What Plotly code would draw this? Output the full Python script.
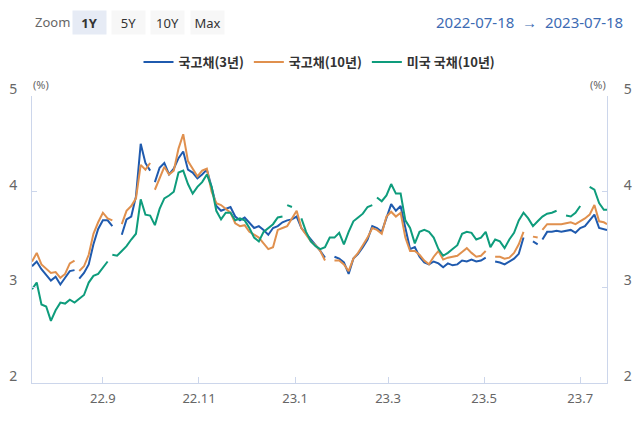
import pandas as pd
import plotly.graph_objects as go

# ---- data ----
start_date = "2022-07-18"
end_date = "2023-07-18"
dates = pd.date_range(start_date, periods=122, freq="3D").strftime("%Y-%m-%d").tolist() + [end_date]

# market holidays (no quote -> break in the line)
kr_holidays = ["2022-08-15", "2022-10-03", "2023-06-06"]
us_holidays = ["2022-09-05", "2022-12-26", "2023-02-20"]

ktb3 = [3.22, 3.27, 3.19, 3.13, 3.07, 3.11, 3.03, 3.10, 3.17, 3.18,
        3.09, 3.15, 3.24, 3.45, 3.61, 3.70, 3.70, 3.64, None, 3.55,
        3.71, 3.74, 3.95, 4.50, 4.30, 4.22, 4.10, 4.25, 4.30, 4.18,
        4.24, 4.35, 4.42, 4.23, 4.20, 4.14, 4.18, 4.23, 4.05, 3.85,
        3.80, 3.82, 3.84, 3.74, 3.70, 3.73, 3.68, 3.62, 3.64, 3.60,
        3.55, 3.62, 3.64, 3.68, 3.70, 3.71, 3.74, 3.62, 3.56, 3.50,
        3.45, 3.38, 3.31, None, 3.32, 3.30, 3.26, 3.14, 3.30, 3.35,
        3.42, 3.50, 3.64, 3.62, 3.58, 3.72, 3.87, 3.80, 3.85, 3.62,
        3.40, 3.42, 3.32, 3.26, 3.24, 3.27, 3.25, 3.21, 3.25, 3.23,
        3.24, 3.28, 3.27, 3.29, 3.27, 3.28, 3.31, None, 3.27, 3.26,
        3.24, 3.27, 3.30, 3.35, 3.52, None, 3.48, 3.45, 3.50, 3.58,
        3.58, 3.59, 3.58, 3.59, 3.60, 3.57, 3.62, 3.64, 3.70, 3.76,
        3.62, 3.61, 3.60]

ktb10 = [3.27, 3.36, 3.24, 3.20, 3.15, 3.16, 3.10, 3.14, 3.25, 3.28,
         3.17, 3.22, 3.34, 3.56, 3.68, 3.78, 3.72, 3.70, None, 3.66,
         3.80, 3.85, 3.93, 4.28, 4.23, 4.30, 4.02, 4.15, 4.26, 4.18,
         4.22, 4.45, 4.60, 4.32, 4.24, 4.16, 4.22, 4.24, 4.00, 3.88,
         3.86, 3.82, 3.78, 3.67, 3.64, 3.65, 3.58, 3.55, 3.52, 3.46,
         3.40, 3.42, 3.60, 3.62, 3.64, 3.72, 3.80, 3.62, 3.55, 3.48,
         3.44, 3.38, 3.28, None, 3.28, 3.28, 3.24, 3.17, 3.30, 3.36,
         3.44, 3.52, 3.62, 3.60, 3.56, 3.74, 3.79, 3.74, 3.78, 3.52,
         3.38, 3.38, 3.34, 3.28, 3.24, 3.32, 3.38, 3.29, 3.31, 3.32,
         3.33, 3.37, 3.41, 3.36, 3.32, 3.33, 3.38, None, 3.32, 3.32,
         3.30, 3.31, 3.36, 3.45, 3.58, None, 3.53, 3.52, 3.60, 3.66,
         3.66, 3.66, 3.66, 3.67, 3.68, 3.66, 3.69, 3.72, 3.76, 3.86,
         3.69, 3.68, 3.66]

ust10 = [2.98, 3.05, 2.82, 2.80, 2.65, 2.76, 2.84, 2.83, 2.87, 2.84,
         2.88, 2.92, 3.05, 3.12, 3.14, 3.20, 3.27, 3.34, 3.33, 3.38,
         3.43, 3.50, 3.56, 3.92, 3.76, 3.75, 3.65, 3.82, 3.93, 3.96,
         4.00, 4.20, 4.22, 4.08, 3.98, 4.05, 4.10, 4.18, 4.05, 3.80,
         3.71, 3.78, 3.78, 3.70, 3.72, 3.70, 3.62, 3.52, 3.48, 3.58,
         3.62, 3.66, 3.73, 3.74, 3.86, 3.84, None, 3.72, 3.58, 3.48,
         3.43, 3.40, 3.42, 3.52, 3.52, 3.57, 3.45, 3.58, 3.69, 3.73,
         3.77, 3.84, 3.86, 3.94, 3.90, 3.96, 4.08, 3.98, 3.98, 3.70,
         3.62, 3.46, 3.58, 3.60, 3.58, 3.52, 3.40, 3.33, 3.36, 3.40,
         3.44, 3.56, 3.58, 3.57, 3.50, 3.52, 3.58, 3.42, 3.50, 3.48,
         3.41, 3.50, 3.57, 3.70, 3.78, 3.72, 3.64, 3.69, 3.74, 3.77,
         3.78, 3.80, None, 3.75, 3.74, 3.78, 3.85, None, 4.05, 4.02,
         3.88, 3.81, 3.81]

series_names = ["국고채(3년)", "국고채(10년)", "미국 국채(10년)"]
series_colors = ["#1f5aae", "#e0904e", "#0e9c7c"]

tick_dates = ["2022-09-01", "2022-11-01", "2023-01-01", "2023-03-01", "2023-05-01", "2023-07-01"]
tick_labels = ["22.9", "22.11", "23.1", "23.3", "23.5", "23.7"]
y_ticks = [2, 3, 4, 5]

zoom_buttons = ["1Y", "5Y", "10Y", "Max"]


def with_holidays(vals, holidays):
    pairs = list(zip(dates, vals)) + [(h, None) for h in holidays]
    pairs.sort(key=lambda p: p[0])
    return [p[0] for p in pairs], [p[1] for p in pairs]


# ---- figure ----
fig = go.Figure()
for vals, hol, name, color in zip([ktb3, ktb10, ust10], [kr_holidays, kr_holidays, us_holidays],
                                  series_names, series_colors):
    xs, ys = with_holidays(vals, hol)
    fig.add_trace(go.Scatter(x=xs, y=ys, mode="lines", name="<b>" + name + "</b>",
                             line=dict(color=color, width=2), connectgaps=False))

axis_color = "#ccd6eb"
tick_font = dict(family="Noto Sans", size=13, color="#666666")

fig.update_layout(
    width=639, height=426,
    margin=dict(l=32, r=32, t=96, b=43, autoexpand=False),
    paper_bgcolor="white", plot_bgcolor="white",
    showlegend=True,
    legend=dict(orientation="h", x=0.5, xanchor="center", xref="container",
                y=1 - 62 / 426, yanchor="middle", yref="container",
                font=dict(family="Noto Sans CJK KR", size=13, color="#333333"),
                itemwidth=30, tracegroupgap=0, bgcolor="rgba(0,0,0,0)"),
    xaxis=dict(type="date", range=[start_date, end_date], tickvals=tick_dates, ticktext=tick_labels,
               showline=True, linecolor=axis_color, linewidth=1, ticks="inside", ticklen=6,
               tickcolor=axis_color, showgrid=False, zeroline=False, tickfont=tick_font,
               ticklabelstandoff=3, automargin=False),
    yaxis=dict(range=[2, 5], tickvals=y_ticks, showline=True, linecolor=axis_color, linewidth=1,
               ticks="inside", ticklen=5, tickcolor=axis_color, showgrid=False, zeroline=False,
               tickfont=dict(family="Noto Sans", size=14, color="#666666"),
               ticklabelshift=-7, ticklabelstandoff=11, automargin=False),
    yaxis2=dict(range=[2, 5], tickvals=y_ticks, overlaying="y", side="right", showline=True,
                linecolor=axis_color, linewidth=1, ticks="inside", ticklen=5, tickcolor=axis_color,
                showgrid=False, zeroline=False,
                tickfont=dict(family="Noto Sans", size=14, color="#666666"),
                ticklabelshift=-7, ticklabelstandoff=13, automargin=False),
)

# invisible trace to make the right axis render
fig.add_trace(go.Scatter(x=[dates[0]], y=[None], yaxis="y2", showlegend=False, hoverinfo="skip"))

annotations = []
annotations.append(dict(text="Zoom", xref="paper", yref="paper", x=0.0017, y=1.2578,
                        xanchor="left", yanchor="middle", showarrow=False,
                        font=dict(family="Noto Sans", size=13, color="#666666")))
btn_centers = [0.100, 0.1678, 0.2357, 0.3049]
for i, (lab, cx) in enumerate(zip(zoom_buttons, btn_centers)):
    active = i == 0
    annotations.append(dict(text=("<b>%s</b>" % lab) if active else lab, xref="paper", yref="paper",
                            x=cx, y=1.2578, xanchor="center", yanchor="middle", showarrow=False,
                            width=33, height=23, borderpad=0, align="center", valign="middle",
                            bgcolor="#e6ebf5" if active else "#f7f7f7",
                            font=dict(family="Noto Sans", size=13, color="#333333")))
sp = "\u00a0\u00a0"
annotations.append(dict(text=start_date + sp + "\u2192" + sp + end_date, xref="paper", yref="paper",
                        x=1.0313, y=1.2578, xanchor="right", yanchor="middle", showarrow=False,
                        font=dict(family="Noto Sans", size=15, color="#3d6bb3")))
for px in [0.0157, 0.9843]:
    annotations.append(dict(text="(%)", xref="paper", yref="paper", x=px, y=1.0418,
                            xanchor="center", yanchor="middle", showarrow=False,
                            font=dict(family="Noto Sans", size=11, color="#666666")))
fig.update_layout(annotations=annotations)

fig.write_html("out.html", config={"displayModeBar": False},
               post_script="document.body.style.margin='0';document.body.style.overflow='hidden';")
